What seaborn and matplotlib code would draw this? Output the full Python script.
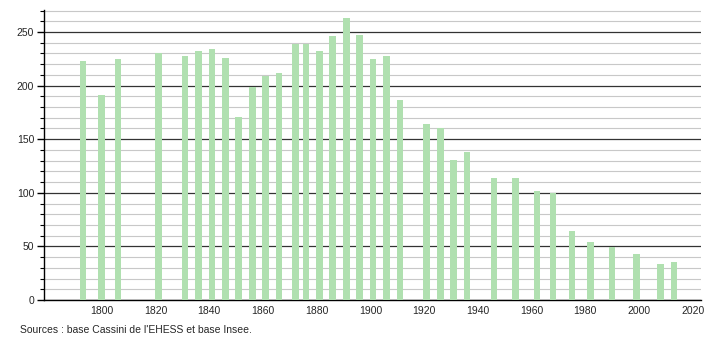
import matplotlib
matplotlib.use("Agg")
import matplotlib.pyplot as plt
import seaborn as sns
import pandas as pd
from matplotlib.ticker import MultipleLocator, FixedLocator

years = [1793, 1800, 1806, 1821, 1831, 1836, 1841, 1846, 1851, 1856, 1861, 1866,
         1872, 1876, 1881, 1886, 1891, 1896, 1901, 1906, 1911, 1921, 1926, 1931,
         1936, 1946, 1954, 1962, 1968, 1975, 1982, 1990, 1999, 2008, 2013]
population = [223, 191, 225, 230, 228, 232, 234, 226, 171, 199, 209, 212,
              239, 239, 232, 246, 263, 247, 225, 228, 187, 164, 160, 131,
              138, 114, 114, 102, 100, 64, 54, 49, 43, 34, 35]
x_ticks = [1800, 1820, 1840, 1860, 1880, 1900, 1920, 1940, 1960, 1980, 2000, 2020]
source_text = "Sources : base Cassini de l'EHESS et base Insee."

df = pd.DataFrame({"year": years, "pop": population})

sns.set_style("white")
plt.rcParams['font.family'] = ['Liberation Sans', 'DejaVu Sans']

fig = plt.figure(figsize=(7.1, 3.4), dpi=100)
ax = fig.add_axes([0.062, 0.1176, 0.925, 0.853])

sns.barplot(data=df, x="year", y="pop", native_scale=True, width=0.62,
            color="#b0e0b0", saturation=1, ax=ax, zorder=3, linewidth=0)

ax.set_xlim(1778.5, 2023)
ax.set_ylim(0, 270.5)
ax.xaxis.set_major_locator(FixedLocator(x_ticks))
ax.set_xticklabels([str(t) for t in x_ticks])
ax.yaxis.set_major_locator(MultipleLocator(50))
ax.yaxis.set_minor_locator(MultipleLocator(10))
ax.grid(which="minor", axis="y", color="#c8c8c8", linewidth=0.8, zorder=0)
ax.grid(which="major", axis="y", color="#333333", linewidth=0.9, zorder=1)
ax.set_axisbelow(True)

for s in ["top", "right"]:
    ax.spines[s].set_visible(False)
ax.spines["left"].set_color("black")
ax.spines["bottom"].set_color("black")
ax.spines["left"].set_linewidth(1)
ax.spines["bottom"].set_linewidth(1)

ax.tick_params(axis="y", which="major", length=5, width=1, color="black",
               labelsize=7.5, pad=2, left=True)
ax.tick_params(axis="y", which="minor", length=3, width=0.8, color="black", left=True)
ax.tick_params(axis="x", length=0, labelsize=7.5, pad=4)
ax.set_xlabel("")
ax.set_ylabel("")

fig.text(0.028, 0.015, source_text, fontsize=7.5, ha="left", va="bottom")

fig.savefig("out.png", dpi=100)
